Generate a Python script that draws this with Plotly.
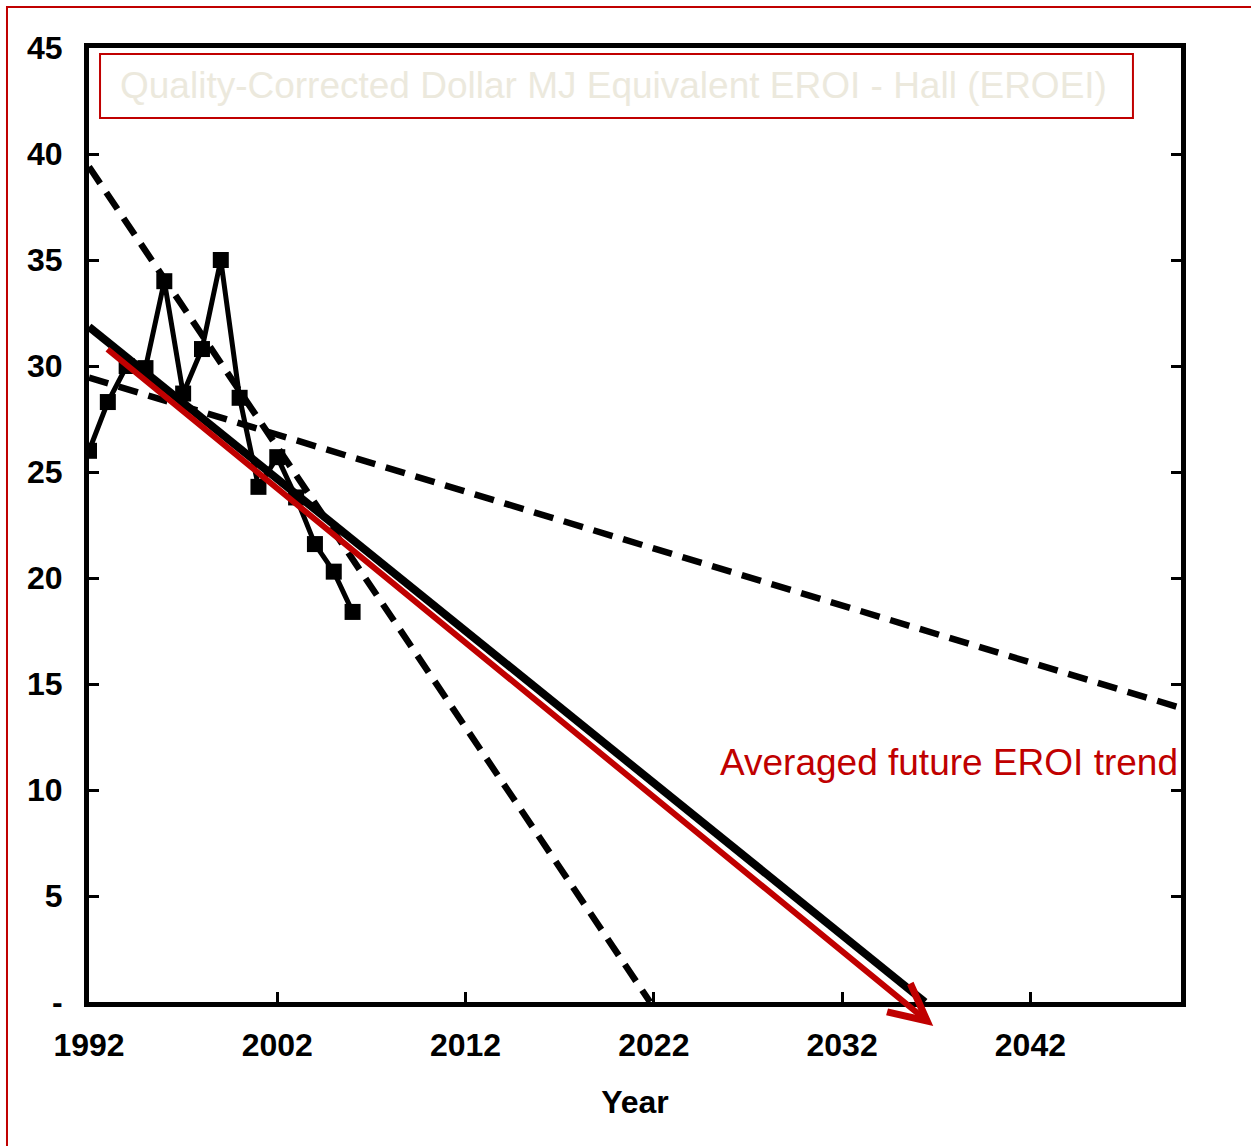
import plotly.graph_objects as go

years = list(range(1992, 2007))
eroi = [26.0, 28.3, 30.0, 29.9, 34.0, 28.7, 30.8, 35.0, 28.5, 24.3, 25.7, 23.8, 21.6, 20.3, 18.4]

trend_solid_x = [1992, 2036.4]
trend_solid_y = [31.85, 0]
trend_steep_x = [1992, 2021.8]
trend_steep_y = [39.4, 0]
trend_shallow_x = [1992, 2050]
trend_shallow_y = [29.45, 13.87]
avg_arrow_x = [1992.9, 2036.84]
avg_arrow_y = [30.85, -1.13]

y_tickvals = [0, 5, 10, 15, 20, 25, 30, 35, 40, 45]
y_ticktext = ["-", "5", "10", "15", "20", "25", "30", "35", "40", "45"]
x_tickvals = [1992, 2002, 2012, 2022, 2032, 2042]

title_text = "Quality-Corrected Dollar MJ Equivalent EROI - Hall (EROEI)"
arrow_label = "Averaged future EROI trend"

RED = "#c00000"
NARROW = "Liberation Sans Narrow, Arial Narrow, Liberation Sans, Arial, sans-serif"

fig = go.Figure()
fig.add_trace(go.Scatter(x=years, y=eroi, mode="lines+markers",
                         line=dict(color="black", width=5),
                         marker=dict(symbol="square", size=16, color="black"),
                         showlegend=False))
fig.add_trace(go.Scatter(x=trend_steep_x, y=trend_steep_y, mode="lines",
                         line=dict(color="black", width=6.5, dash="20px,11px"),
                         showlegend=False))
fig.add_trace(go.Scatter(x=trend_shallow_x, y=trend_shallow_y, mode="lines",
                         line=dict(color="black", width=6.5, dash="20px,11px"),
                         showlegend=False))
fig.add_trace(go.Scatter(x=trend_solid_x, y=trend_solid_y, mode="lines",
                         line=dict(color="black", width=8),
                         showlegend=False))

fig.add_annotation(x=avg_arrow_x[1], y=avg_arrow_y[1], ax=avg_arrow_x[0], ay=avg_arrow_y[0],
                   xref="x", yref="y", axref="x", ayref="y", text="",
                   showarrow=True, arrowhead=5, arrowsize=1.2, arrowwidth=6, arrowcolor=RED)

fig.add_annotation(x=1, y=11.32, xref="paper", yref="y", xanchor="right", yanchor="middle",
                   xshift=-1, text=arrow_label, showarrow=False,
                   font=dict(family="Liberation Sans, Arial, sans-serif", size=37, color=RED))

# title box
fig.add_shape(type="rect", xref="paper", yref="paper", x0=0.0101, x1=0.956, y0=0.9266, y1=0.9937,
              line=dict(color=RED, width=2), fillcolor="rgba(0,0,0,0)")
fig.add_annotation(x=0.4800, y=0.961, xref="paper", yref="paper", text=title_text, showarrow=False,
                   xanchor="center", yanchor="middle",
                   font=dict(family="Liberation Sans, Arial, sans-serif", size=37, color="#ece9dd"))

# outer red border
fig.add_shape(type="rect", xref="paper", yref="paper", x0=-0.0751, x1=1.3, y0=-0.3, y1=1.0430,
              line=dict(color=RED, width=2), fillcolor="rgba(0,0,0,0)", layer="below")

fig.update_layout(
    width=1251, height=1146,
    margin=dict(l=89, r=70, t=48, b=144),
    paper_bgcolor="white", plot_bgcolor="white",
    xaxis=dict(range=[1992, 2050], tickvals=x_tickvals, ticks="inside", ticklen=10, tickwidth=3,
               tickcolor="black", showline=True, linewidth=5, linecolor="black", mirror=True,
               showgrid=False, zeroline=False, ticklabelstandoff=11,
               tickfont=dict(family=NARROW, size=32, color="black", weight="bold"),
               title=dict(text="Year", standoff=30,
                          font=dict(family=NARROW, size=32, color="black", weight="bold"))),
    yaxis=dict(range=[0, 45], tickvals=y_tickvals, ticktext=y_ticktext, ticks="inside", ticklen=10,
               tickwidth=3, tickcolor="black", showline=True, linewidth=5, linecolor="black",
               mirror="ticks", showgrid=False, zeroline=False, ticklabelstandoff=15,
               tickfont=dict(family=NARROW, size=32, color="black", weight="bold")),
)

fig.write_html("out.html", config={"displayModeBar": False},
               post_script="document.body.style.margin='0px';document.body.style.overflow='hidden';")
